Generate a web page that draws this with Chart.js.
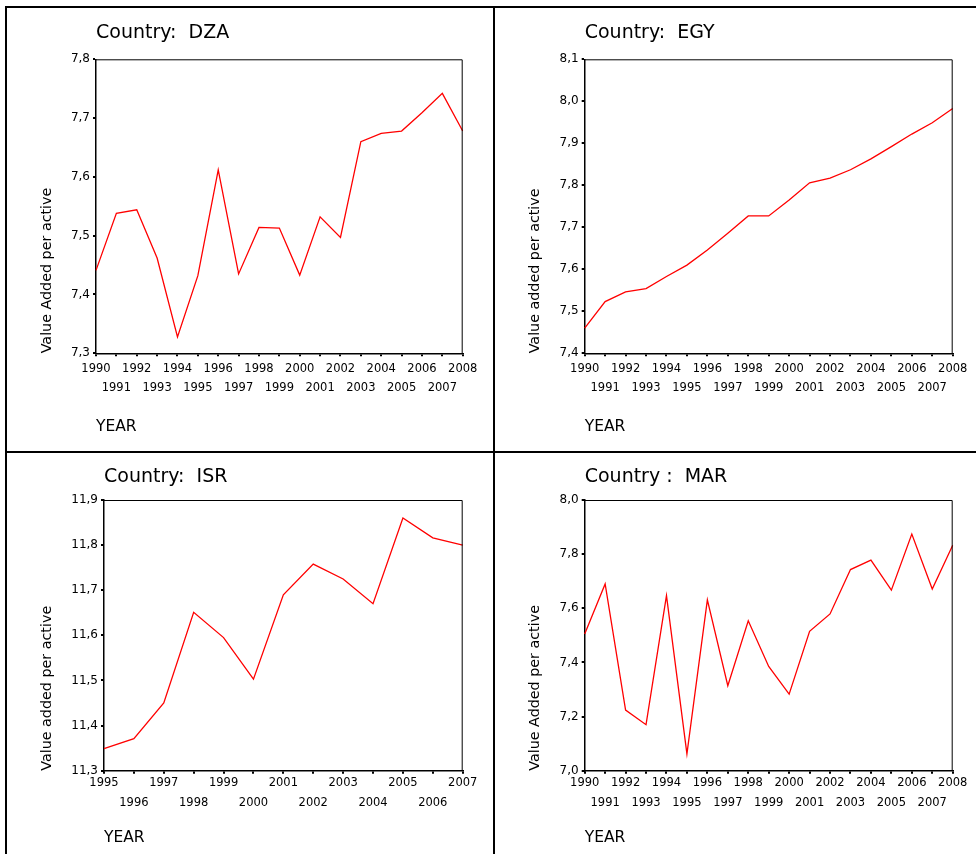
<!DOCTYPE html>
<html>
<head>
<meta charset="utf-8">
<script src="https://cdn.jsdelivr.net/npm/chart.js@4.4.0/dist/chart.umd.min.js"></script>
<style>
  body { margin: 0; background: #fff; }
  #page { position: relative; width: 976px; height: 854px; overflow: hidden; background: #fff; }
  canvas { position: absolute; }
  .rule { position: absolute; background: #000; }
</style>
</head>
<body>
<div id="page">
  <div class="rule" style="left:5px;top:6px;width:971px;height:2px"></div>
  <div class="rule" style="left:5px;top:6px;width:2px;height:848px"></div>
  <div class="rule" style="left:493px;top:6px;width:2px;height:848px"></div>
  <div class="rule" style="left:5px;top:451px;width:971px;height:2px"></div>
  <canvas id="dza" width="484" height="441" style="left:8px;top:9px"></canvas>
  <canvas id="egy" width="480" height="441" style="left:496px;top:9px"></canvas>
  <canvas id="isr" width="484" height="400" style="left:8px;top:454px"></canvas>
  <canvas id="mar" width="480" height="400" style="left:496px;top:454px"></canvas>
</div>
<script>
// years on the x axis
const years9008 = [1990, 1991, 1992, 1993, 1994, 1995, 1996, 1997, 1998, 1999,
                   2000, 2001, 2002, 2003, 2004, 2005, 2006, 2007, 2008];
const years9507 = [1995, 1996, 1997, 1998, 1999, 2000, 2001, 2002, 2003, 2004, 2005, 2006, 2007];

// values
const dzaValues = [7.441, 7.538, 7.544, 7.462, 7.328, 7.432, 7.612, 7.435, 7.514, 7.513,
                   7.433, 7.532, 7.497, 7.660, 7.674, 7.678, 7.709, 7.742, 7.678];
const egyValues = [7.460, 7.523, 7.546, 7.554, 7.583, 7.610, 7.646, 7.686, 7.727, 7.727,
                   7.765, 7.806, 7.817, 7.837, 7.863, 7.892, 7.922, 7.949, 7.983];
const isrValues = [11.349, 11.371, 11.450, 11.651, 11.595, 11.503, 11.690, 11.758, 11.725,
                   11.670, 11.860, 11.816, 11.800];
const marValues = [7.505, 7.690, 7.224, 7.170, 7.647, 7.062, 7.631, 7.314, 7.554, 7.385,
                   7.283, 7.515, 7.579, 7.743, 7.778, 7.667, 7.874, 7.671, 7.833];

// y axis ranges (min, max, step)
const dzaRange = [7.3, 7.8, 0.1];
const egyRange = [7.4, 8.1, 0.1];
const isrRange = [11.3, 11.9, 0.1];
const marRange = [7.0, 8.0, 0.2];

const FONT = "'DejaVu Sans', sans-serif";

// thin frame on top and right of the plot
const frame = {
  id: 'frame',
  afterDraw(chart) {
    const a = chart.chartArea, c = chart.ctx;
    c.save();
    c.strokeStyle = '#000';
    c.lineWidth = 1;
    c.beginPath();
    c.moveTo(a.left, a.top + 0.5);
    c.lineTo(a.right - 0.5, a.top + 0.5);
    c.lineTo(a.right - 0.5, a.bottom);
    c.stroke();
    c.restore();
  }
};

function panel(id, title, yTitle, years, values, range, g) {
  new Chart(document.getElementById(id), {
    type: 'line',
    data: {
      labels: years.map(String),
      datasets: [{
        data: values,
        borderColor: '#ff0000',
        borderWidth: 1.3,
        pointRadius: 0,
        tension: 0,
        fill: false
      }]
    },
    options: {
      responsive: false,
      animation: false,
      layout: { padding: { top: g.padTop, right: g.padRight, left: 0, bottom: 0 } },
      plugins: {
        legend: { display: false },
        tooltip: { enabled: false },
        title: {
          display: true,
          text: title,
          align: 'start',
          fullSize: false,
          color: '#000',
          font: { family: FONT, size: 19, weight: 'normal', lineHeight: 1.2 },
          padding: { top: 0, bottom: g.titleGap }
        }
      },
      scales: {
        x: {
          type: 'category',
          offset: false,
          afterFit(s) { s.height = g.xHeight; },
          border: { display: true, color: '#000', width: 1.5 },
          grid: { display: true, drawOnChartArea: false, drawTicks: true, tickLength: 3, color: '#000', lineWidth: 2 },
          ticks: {
            autoSkip: false,
            maxRotation: 0,
            minRotation: 0,
            padding: g.xPad,
            color: '#000',
            font: { family: FONT, size: 11.5, lineHeight: 1.7 },
            callback(v, i) {
              const t = this.getLabelForValue(v);
              return i % 2 ? ['', t] : [t, ''];
            }
          },
          title: {
            display: true,
            text: 'YEAR',
            align: 'start',
            color: '#000',
            font: { family: FONT, size: 15.5, lineHeight: 1.2 },
            padding: { top: 0, bottom: g.yearGap }
          }
        },
        y: {
          min: range[0],
          max: range[1],
          afterFit(s) { s.width = g.yWidth; },
          border: { display: true, color: '#000', width: 1.5 },
          grid: { display: true, drawOnChartArea: false, drawTicks: true, tickLength: 3, color: '#000', lineWidth: 2 },
          ticks: {
            stepSize: range[2],
            padding: 3,
            color: '#000',
            font: { family: FONT, size: 12 },
            callback: v => v.toFixed(1).replace('.', ',')
          },
          title: {
            display: true,
            text: yTitle,
            align: 'start',
            color: '#000',
            font: { family: FONT, size: 14.3, lineHeight: 1.2 },
            padding: { top: 30.4, bottom: 0 }
          }
        }
      }
    },
    plugins: [frame]
  });
}

panel('dza', 'Country:  DZA', 'Value Added per active', years9008, dzaValues, dzaRange,
  { padTop: 12.6, titleGap: 14.9, padRight: 29.3, yWidth: 88, xHeight: 96.7, xPad: 2.5, yearGap: 13.5 });
panel('egy', 'Country:  EGY', 'Value added per active', years9008, egyValues, egyRange,
  { padTop: 12.9, titleGap: 14.6, padRight: 23.3, yWidth: 88.7, xHeight: 96.7, xPad: 2.5, yearGap: 13.5 });
panel('isr', 'Country:  ISR', 'Value added per active', years9507, isrValues, isrRange,
  { padTop: 11.9, titleGap: 11.3, padRight: 29.3, yWidth: 96, xHeight: 83.3, xPad: -0.5, yearGap: 7 });
panel('mar', 'Country :  MAR', 'Value Added per active', years9008, marValues, marRange,
  { padTop: 11.9, titleGap: 11.3, padRight: 23.3, yWidth: 88.7, xHeight: 83.3, xPad: -0.5, yearGap: 7 });
</script>
</body>
</html>
